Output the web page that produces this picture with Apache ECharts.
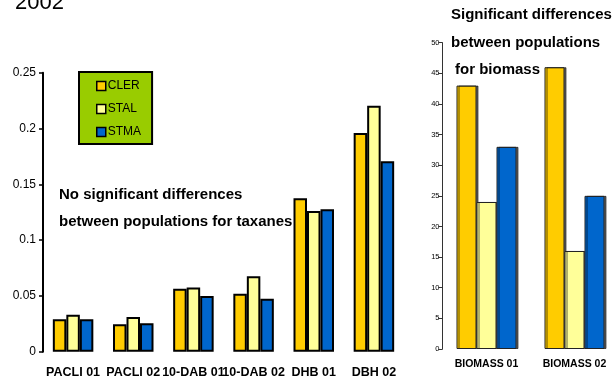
<!DOCTYPE html>
<html>
<head>
<meta charset="utf-8">
<script src="https://cdn.jsdelivr.net/npm/echarts@6/dist/echarts.min.js"></script>
<style>
  html, body { margin: 0; padding: 0; background: #fff; }
  #main { width: 613px; height: 376px; }
</style>
</head>
<body>
<div id="main"></div>
<script>
// taxanes per population (left panel)
var taxCats = ['PACLI 01', 'PACLI 02', '10-DAB 01', '10-DAB 02', 'DHB 01', 'DBH 02'];
var taxCLER = [0.029, 0.0245, 0.0563, 0.052, 0.1375, 0.196];
var taxSTAL = [0.033, 0.031, 0.0576, 0.0677, 0.126, 0.2204];
var taxSTMA = [0.029, 0.0254, 0.050, 0.0474, 0.1277, 0.1706];

// biomass (right panel)
var bioCats = ['BIOMASS 01', 'BIOMASS 02'];
var bioCLER = [43, 46];
var bioSTAL = [24, 16];
var bioSTMA = [33, 25];

var colors = { CLER: '#FFCC00', STAL: '#FFFF99', STMA: '#0066CC' };
var font = 'Liberation Sans, Arial, sans-serif';

function taxSeries(name, data) {
  return {
    name: name, type: 'bar', xAxisIndex: 0, yAxisIndex: 0,
    data: data, barWidth: 13.5, barGap: '0%',
    itemStyle: { color: colors[name], borderColor: '#000', borderWidth: 2 },
    animation: false
  };
}
function bioSeries(name, data) {
  return {
    name: name, type: 'bar', xAxisIndex: 1, yAxisIndex: 1,
    data: data, barWidth: 20, barGap: '0%',
    itemStyle: {
      color: colors[name], borderColor: '#222', borderWidth: 1,
      shadowColor: 'rgba(0,0,0,0.6)', shadowOffsetX: 2, shadowOffsetY: 0, shadowBlur: 0
    },
    animation: false
  };
}

var chart = echarts.init(document.getElementById('main'));
chart.setOption({
  animation: false,
  textStyle: { fontFamily: font },
  grid: [
    { left: 43, top: 72.7, width: 361, height: 279, outerBoundsMode: 'none' },
    { left: 442.5, top: 42.7, width: 176, height: 306.3, outerBoundsMode: 'none' }
  ],
  legend: {
    data: ['CLER', 'STAL', 'STMA'],
    orient: 'vertical',
    left: 79, top: 72,
    padding: [8, 11, 6, 17],
    itemGap: 11,
    itemWidth: 9, itemHeight: 9,
    icon: 'rect',
    selectedMode: false,
    backgroundColor: '#99CC00',
    borderColor: '#000', borderWidth: 2,
    itemStyle: { borderColor: '#000', borderWidth: 1.5 },
    textStyle: { fontSize: 12, color: '#000', padding: [0, 0, 0, -3] }
  },
  xAxis: [
    {
      type: 'category', gridIndex: 0, data: taxCats,
      axisLine: { show: false }, axisTick: { show: false },
      axisLabel: { interval: 0, hideOverlap: false, margin: 14, fontSize: 12.5, fontWeight: 'bold', color: '#000' }
    },
    {
      type: 'category', gridIndex: 1, data: bioCats,
      axisLine: { show: false }, axisTick: { show: false },
      axisLabel: { interval: 0, margin: 10, fontSize: 10.5, fontWeight: 'bold', color: '#000' }
    }
  ],
  yAxis: [
    {
      type: 'value', gridIndex: 0, min: 0, max: 0.25, interval: 0.05,
      splitLine: { show: false },
      axisLine: { show: true, lineStyle: { color: '#000', width: 2 } },
      axisTick: { show: true, inside: false, length: 4, lineStyle: { color: '#000', width: 1.5 } },
      axisLabel: { margin: 7, fontSize: 12, color: '#000' }
    },
    {
      type: 'value', gridIndex: 1, min: 0, max: 50, interval: 5,
      splitLine: { show: false },
      axisLine: { show: true, lineStyle: { color: '#333', width: 1 } },
      axisTick: { show: true, length: 4, lineStyle: { color: '#333' } },
      axisLabel: { margin: 3, fontSize: 7.5, color: '#000' }
    }
  ],
  graphic: [
    { type: 'text', left: 15, top: -8, style: { text: '2002', font: '22px ' + font, fill: '#000' } },
    { type: 'text', x: 59, y: 195, style: { text: 'No significant differences', font: 'bold 15px ' + font, fill: '#000', verticalAlign: 'middle' } },
    { type: 'text', x: 59, y: 222, style: { text: 'between populations for taxanes', font: 'bold 15px ' + font, fill: '#000', verticalAlign: 'middle' } },
    { type: 'text', x: 451, y: 15, style: { text: 'Significant differences', font: 'bold 15px ' + font, fill: '#000', verticalAlign: 'middle' } },
    { type: 'text', x: 451, y: 43, style: { text: 'between populations', font: 'bold 15px ' + font, fill: '#000', verticalAlign: 'middle' } },
    { type: 'text', x: 455, y: 70, style: { text: 'for biomass', font: 'bold 15px ' + font, fill: '#000', verticalAlign: 'middle' } }
  ],
  series: [
    taxSeries('CLER', taxCLER),
    taxSeries('STAL', taxSTAL),
    taxSeries('STMA', taxSTMA),
    bioSeries('CLER', bioCLER),
    bioSeries('STAL', bioSTAL),
    bioSeries('STMA', bioSTMA)
  ]
});
</script>
</body>
</html>
